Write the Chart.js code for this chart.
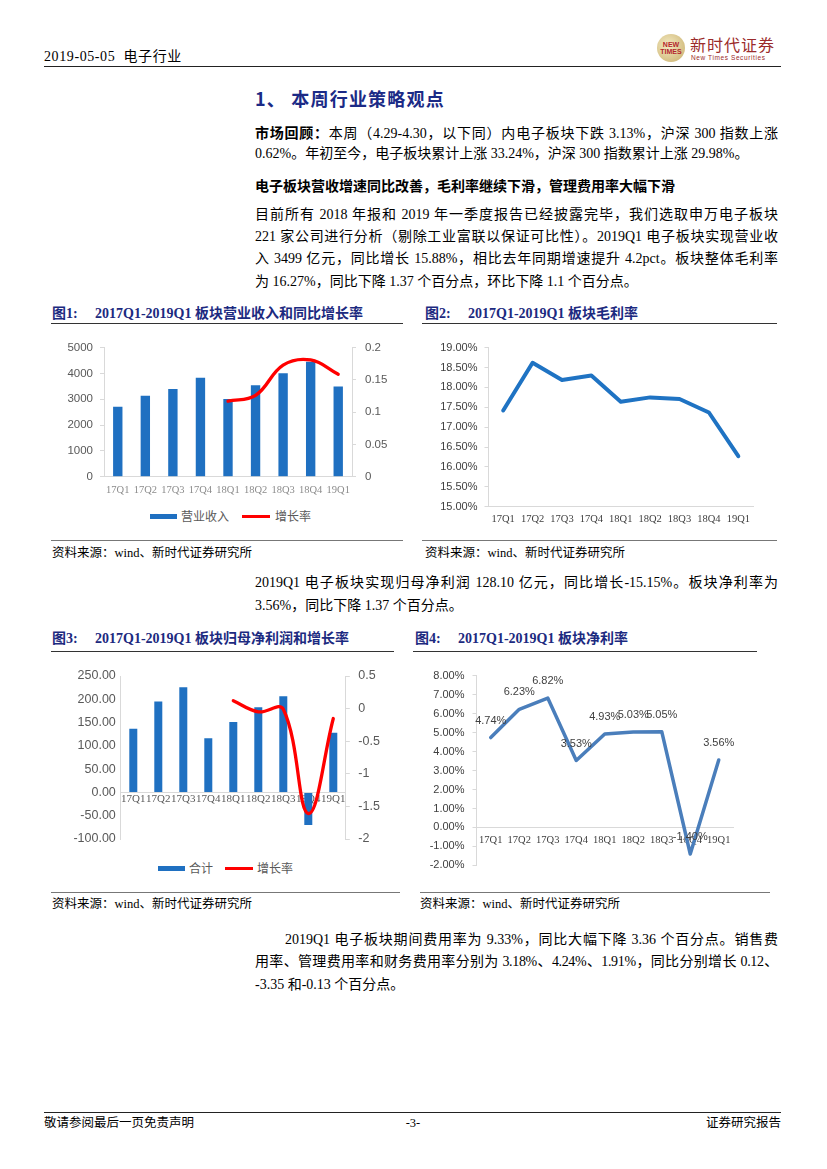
<!DOCTYPE html>
<html lang="zh-CN"><head><meta charset="utf-8">
<script src="https://cdn.jsdelivr.net/npm/chart.js@4.4.1/dist/chart.umd.min.js"></script>
<style>
body{margin:0;background:#fff;}
#page{position:relative;width:827px;height:1169px;overflow:hidden;font-family:"Liberation Serif","Noto Sans CJK SC",serif;color:#000;}
.abs{position:absolute;white-space:nowrap;}
.ln{position:absolute;left:255px;width:523px;font-size:14px;line-height:22px;height:22px;}
.j{text-align:justify;text-align-last:justify;}
.hr{position:absolute;height:0;}
.ct{position:absolute;font-family:"Liberation Serif","Noto Sans CJK SC",serif;font-weight:bold;font-size:14px;color:#1c2a80;line-height:18px;white-space:nowrap;}
.src{position:absolute;font-size:12.5px;line-height:16px;white-space:nowrap;}
.lg{position:absolute;font-family:"Noto Sans CJK SC",sans-serif;font-size:12px;color:#595959;line-height:16px;white-space:nowrap;}
canvas{position:absolute;}
</style></head>
<body><div id="page">

<!-- header -->
<div class="abs" style="left:44px;top:48px;font-size:14px;line-height:18px;letter-spacing:0.6px;">2019-05-05&nbsp; 电子行业</div>
<div class="abs" style="left:657px;top:34px;width:28px;height:28px;border-radius:50%;background:radial-gradient(circle at 40% 40%,#f4ebc4,#c8ad68);"></div>
<div class="abs" style="left:659px;top:41px;font:bold 7px 'Liberation Sans';color:#b3262b;line-height:7px;text-align:center;width:24px;">NEW<br>TIMES</div>
<div class="abs" style="left:690px;top:34px;font-family:'Noto Sans CJK SC';font-size:16px;line-height:20px;color:#9b2b2b;letter-spacing:1px;">新时代证券</div>
<div class="abs" style="left:691px;top:54px;font-family:'Liberation Sans';font-size:6.5px;line-height:8px;color:#9b2b2b;letter-spacing:0.6px;">New Times Securities</div>
<div class="hr" style="left:44px;top:66px;width:737px;border-top:1.5px solid #222;"></div>

<!-- section title -->
<div class="abs" style="left:255px;top:87px;font-family:'Noto Sans CJK SC',sans-serif;font-weight:bold;font-size:18px;line-height:22px;color:#1b2a86;letter-spacing:1.2px;">1、&nbsp;本周行业策略观点</div>

<div class="ln j" style="top:121px;"><b style="font-family:'Noto Sans CJK SC'">市场回顾：</b>本周（4.29-4.30，以下同）内电子板块下跌 3.13%，沪深 300 指数上涨</div>
<div class="ln" style="top:143px;">0.62%。年初至今，电子板块累计上涨 33.24%，沪深 300 指数累计上涨 29.98%。</div>

<div class="ln" style="top:174px;font-family:'Noto Sans CJK SC',sans-serif;font-weight:bold;">电子板块营收增速同比改善，毛利率继续下滑，管理费用率大幅下滑</div>

<div class="ln j" style="top:204px;">目前所有 2018 年报和 2019 年一季度报告已经披露完毕，我们选取申万电子板块</div>
<div class="ln j" style="top:226px;">221 家公司进行分析（剔除工业富联以保证可比性）。2019Q1 电子板块实现营业收</div>
<div class="ln j" style="top:248px;">入 3499 亿元，同比增长 15.88%，相比去年同期增速提升 4.2pct。板块整体毛利率</div>
<div class="ln" style="top:271px;">为 16.27%，同比下降 1.37 个百分点，环比下降 1.1 个百分点。</div>

<!-- chart titles row 1 -->
<div class="ct" style="left:52px;top:305px;">图1:</div>
<div class="ct" style="left:95px;top:305px;">2017Q1-2019Q1 板块营业收入和同比增长率</div>
<div class="hr" style="left:51px;top:323px;width:352px;border-top:1.5px solid #333;"></div>
<div class="ct" style="left:425px;top:305px;">图2:</div>
<div class="ct" style="left:468px;top:305px;">2017Q1-2019Q1 板块毛利率</div>
<div class="hr" style="left:422px;top:323px;width:355px;border-top:1.5px solid #333;"></div>

<canvas id="c1" width="350" height="175" style="left:50px;top:330px;width:350px;height:175px;"></canvas>
<canvas id="c2" width="350" height="200" style="left:425px;top:330px;width:350px;height:200px;"></canvas>

<!-- legend chart 1 -->
<div class="abs" style="left:150px;top:513.5px;width:27px;height:5px;background:#1f70c1;"></div>
<div class="lg" style="left:181px;top:508px;">营业收入</div>
<div class="abs" style="left:242px;top:514.5px;width:28px;height:3px;background:#ff0000;"></div>
<div class="lg" style="left:275px;top:508px;">增长率</div>

<div class="hr" style="left:51px;top:540px;width:352px;border-top:1.5px solid #777;"></div>
<div class="src" style="left:52px;top:545px;">资料来源：wind、新时代证券研究所</div>
<div class="hr" style="left:422px;top:540px;width:355px;border-top:1.5px solid #777;"></div>
<div class="src" style="left:425px;top:545px;">资料来源：wind、新时代证券研究所</div>

<div class="ln j" style="top:572px;">2019Q1 电子板块实现归母净利润 128.10 亿元，同比增长-15.15%。板块净利率为</div>
<div class="ln" style="top:595px;">3.56%，同比下降 1.37 个百分点。</div>

<!-- chart titles row 2 -->
<div class="ct" style="left:52px;top:630px;">图3:</div>
<div class="ct" style="left:95px;top:630px;">2017Q1-2019Q1 板块归母净利润和增长率</div>
<div class="hr" style="left:51px;top:651px;width:343px;border-top:1.5px solid #333;"></div>
<div class="ct" style="left:415px;top:630px;">图4:</div>
<div class="ct" style="left:458px;top:630px;">2017Q1-2019Q1 板块净利率</div>
<div class="hr" style="left:413px;top:651px;width:344px;border-top:1.5px solid #333;"></div>

<canvas id="c3" width="350" height="195" style="left:50px;top:660px;width:350px;height:195px;"></canvas>
<canvas id="c4" width="350" height="220" style="left:420px;top:660px;width:350px;height:220px;"></canvas>

<!-- legend chart 3 -->
<div class="abs" style="left:158px;top:865.5px;width:27px;height:5px;background:#1f70c1;"></div>
<div class="lg" style="left:189px;top:860px;">合计</div>
<div class="abs" style="left:225px;top:866.5px;width:28px;height:3px;background:#ff0000;"></div>
<div class="lg" style="left:257px;top:860px;">增长率</div>

<div class="hr" style="left:51px;top:892px;width:349px;border-top:1.5px solid #777;"></div>
<div class="src" style="left:52px;top:896px;">资料来源：wind、新时代证券研究所</div>
<div class="hr" style="left:420px;top:892px;width:350px;border-top:1.5px solid #777;"></div>
<div class="src" style="left:420px;top:896px;">资料来源：wind、新时代证券研究所</div>

<div class="ln j" style="top:929px;left:285px;width:493px;">2019Q1 电子板块期间费用率为 9.33%，同比大幅下降 3.36 个百分点。销售费</div>
<div class="ln j" style="top:951px;letter-spacing:-0.35px;">用率、管理费用率和财务费用率分别为 3.18%、4.24%、1.91%，同比分别增长 0.12、</div>
<div class="ln" style="top:974px;">-3.35 和-0.13 个百分点。</div>

<!-- footer -->
<div class="hr" style="left:44px;top:1112px;width:737px;border-top:1.5px solid #222;"></div>
<div class="abs" style="left:44px;top:1115px;font-size:12.5px;line-height:16px;">敬请参阅最后一页免责声明</div>
<div class="abs" style="left:403px;top:1115px;width:20px;text-align:center;font-size:12.5px;line-height:16px;">-3-</div>
<div class="abs" style="right:46px;top:1115px;font-size:12.5px;line-height:16px;">证券研究报告</div>

</div>
<script>
Chart.defaults.font.family = '"Liberation Sans", Arial, sans-serif';
Chart.defaults.animation = false;

// ---- data ----
const categories = ['17Q1','17Q2','17Q3','17Q4','18Q1','18Q2','18Q3','18Q4','19Q1'];
const revenue = [2713, 3140, 3398, 3837, 3010, 3540, 4005, 4457, 3499];
const revenueGrowth = [null, null, null, null, 0.117, 0.126, 0.173, 0.181, 0.1588];
const grossMargin = [17.42, 18.62, 18.19, 18.30, 17.64, 17.75, 17.71, 17.37, 16.27];
const netProfit = [136.6, 195.0, 226.0, 116.2, 151.4, 183.1, 206.3, -69.7, 128.1];
const profitGrowth = [null, null, null, null, 0.12, -0.05, -0.01, -1.61, -0.1515];
const netMargin = [4.74, 6.23, 6.82, 3.53, 4.93, 5.03, 5.05, -1.40, 3.56];

// ---- tick labels ----
const revenueTicks = [0, 1000, 2000, 3000, 4000, 5000];
const revenueGrowthTicks = [0, 0.05, 0.1, 0.15, 0.2];
const grossMarginTicks = [15, 15.5, 16, 16.5, 17, 17.5, 18, 18.5, 19];
const netProfitTicks = [-100, -50, 0, 50, 100, 150, 200, 250];
const profitGrowthTicks = [-2, -1.5, -1, -0.5, 0, 0.5];
const netMarginTicks = [-2, -1, 0, 1, 2, 3, 4, 5, 6, 7, 8];

const BLUE = '#1f70c1';
const RED = '#ff0000';
const AXIS = '#d9d9d9';

function fixedTicks(arr) { return s => { s.ticks = arr.map(v => ({ value: v })); }; }
const noPlugins = { legend: { display: false }, tooltip: { enabled: false } };

// Chart 1
new Chart(document.getElementById('c1'), {
  type: 'bar',
  data: { labels: categories, datasets: [
    { type: 'line', label: '增长率', data: revenueGrowth, yAxisID: 'y1', borderColor: RED, borderWidth: 3.3,
      tension: 0.4, pointRadius: 0, fill: false, order: 0, borderCapStyle: 'round' },
    { type: 'bar', label: '营业收入', data: revenue, yAxisID: 'y', backgroundColor: BLUE,
      barPercentage: 0.34, categoryPercentage: 1, order: 1 }
  ]},
  options: {
    responsive: false, animation: false,
    layout: { padding: { top: 17.7, left: 0, right: 0, bottom: 0 } },
    plugins: noPlugins,
    scales: {
      x: { grid: { display: false, drawTicks: false }, border: { display: true, color: AXIS },
           ticks: { font: { family: '"Liberation Serif"', size: 10.5 }, color: '#8c8c8c', padding: 7,
                    autoSkip: false, maxRotation: 0, minRotation: 0 },
           afterFit: s => { s.height = 28.3; } },
      y: { position: 'left', min: 0, max: 5000, afterBuildTicks: fixedTicks(revenueTicks),
           grid: { drawOnChartArea: false, drawTicks: true, tickLength: 4, color: AXIS }, border: { color: AXIS },
           ticks: { font: { size: 11.5 }, color: '#595959', padding: 7, callback: v => String(v) },
           afterFit: s => { s.width = 54; } },
      y1: { position: 'right', min: 0, max: 0.2, afterBuildTicks: fixedTicks(revenueGrowthTicks),
           grid: { drawOnChartArea: false, drawTicks: true, tickLength: 4, color: AXIS }, border: { color: AXIS },
           ticks: { font: { size: 11.5 }, color: '#595959', padding: 9, callback: v => String(v) },
           afterFit: s => { s.width = 48; } }
    }
  }
});

// Chart 2
new Chart(document.getElementById('c2'), {
  type: 'line',
  data: { labels: categories, datasets: [
    { label: '毛利率', data: grossMargin, borderColor: '#1f73c3', borderWidth: 4, tension: 0, pointRadius: 0,
      fill: false, borderJoinStyle: 'round', borderCapStyle: 'round' }
  ]},
  options: {
    responsive: false, animation: false,
    layout: { padding: { top: 17.7, left: 0, right: 22, bottom: 0 } },
    plugins: noPlugins,
    scales: {
      x: { offset: true, grid: { display: false, drawTicks: false }, border: { display: true, color: AXIS },
           ticks: { font: { family: '"Liberation Serif"', size: 10.5 }, color: '#404040', padding: 6,
                    autoSkip: false, maxRotation: 0, minRotation: 0 },
           afterFit: s => { s.height = 23.3; } },
      y: { min: 15, max: 19, afterBuildTicks: fixedTicks(grossMarginTicks),
           grid: { drawOnChartArea: false, drawTicks: true, tickLength: 4, color: AXIS }, border: { color: AXIS },
           ticks: { font: { size: 11 }, color: '#404040', padding: 7, callback: v => v.toFixed(2) + '%' },
           afterFit: s => { s.width = 63.5; } }
    }
  }
});

// Chart 3
new Chart(document.getElementById('c3'), {
  type: 'bar',
  data: { labels: categories, datasets: [
    { type: 'line', label: '增长率', data: profitGrowth, yAxisID: 'y1', borderColor: RED, borderWidth: 3.3,
      tension: 0.4, pointRadius: 0, fill: false, order: 0, borderCapStyle: 'round' },
    { type: 'bar', label: '合计', data: netProfit, yAxisID: 'y', backgroundColor: BLUE,
      barPercentage: 0.32, categoryPercentage: 1, order: 1 }
  ]},
  options: {
    responsive: false, animation: false,
    layout: { padding: { top: 15.7, left: 0, right: 0, bottom: 13.3 } },
    plugins: noPlugins,
    scales: {
      x: { position: { y: 0 }, grid: { display: false, drawTicks: false }, border: { display: true, color: AXIS },
           ticks: { font: { family: '"Liberation Serif"', size: 11 }, color: '#595959', padding: 0,
                    autoSkip: false, maxRotation: 0, minRotation: 0 } },
      y: { position: 'left', min: -100, max: 250, afterBuildTicks: fixedTicks(netProfitTicks),
           grid: { drawOnChartArea: false, drawTicks: false, color: AXIS }, border: { color: AXIS },
           ticks: { font: { size: 12.5 }, color: '#595959', padding: 5, callback: v => v.toFixed(2) },
           afterFit: s => { s.width = 70.8; } },
      y1: { position: 'right', min: -2, max: 0.5, afterBuildTicks: fixedTicks(profitGrowthTicks),
           grid: { drawOnChartArea: false, drawTicks: true, tickLength: 4, color: AXIS }, border: { color: AXIS },
           ticks: { font: { size: 12.5 }, color: '#595959', padding: 8.5, callback: v => String(v) },
           afterFit: s => { s.width = 54.2; } }
    }
  }
});

// Chart 4
const pointLabels = {
  id: 'pointLabels',
  afterDatasetsDraw(chart) {
    const ctx = chart.ctx;
    const meta = chart.getDatasetMeta(0);
    ctx.save();
    ctx.font = '11px "Liberation Sans"';
    ctx.fillStyle = '#404040';
    ctx.textAlign = 'center';
    ctx.textBaseline = 'middle';
    meta.data.forEach((pt, i) => { ctx.fillText(netMargin[i].toFixed(2) + '%', pt.x, pt.y - 17); });
    ctx.restore();
  }
};
new Chart(document.getElementById('c4'), {
  type: 'line',
  data: { labels: categories, datasets: [
    { label: '净利率', data: netMargin, borderColor: '#4a7ebb', borderWidth: 3.5, tension: 0, pointRadius: 0,
      fill: false, borderJoinStyle: 'round', borderCapStyle: 'round' }
  ]},
  options: {
    responsive: false, animation: false,
    layout: { padding: { top: 15.7, left: 0, right: 37, bottom: 9 } },
    plugins: noPlugins,
    scales: {
      x: { offset: true, position: { y: 0 }, grid: { display: false, drawTicks: false }, border: { display: true, color: AXIS },
           ticks: { font: { family: '"Liberation Serif"', size: 10.5 }, color: '#404040', padding: 6,
                    autoSkip: false, maxRotation: 0, minRotation: 0 } },
      y: { min: -2, max: 8, afterBuildTicks: fixedTicks(netMarginTicks),
           grid: { drawOnChartArea: false, drawTicks: true, tickLength: 4, color: AXIS }, border: { color: AXIS },
           ticks: { font: { size: 11 }, color: '#404040', padding: 8, callback: v => v.toFixed(2) + '%' },
           afterFit: s => { s.width = 56.5; } }
    }
  },
  plugins: [pointLabels]
});
</script>
</body></html>
